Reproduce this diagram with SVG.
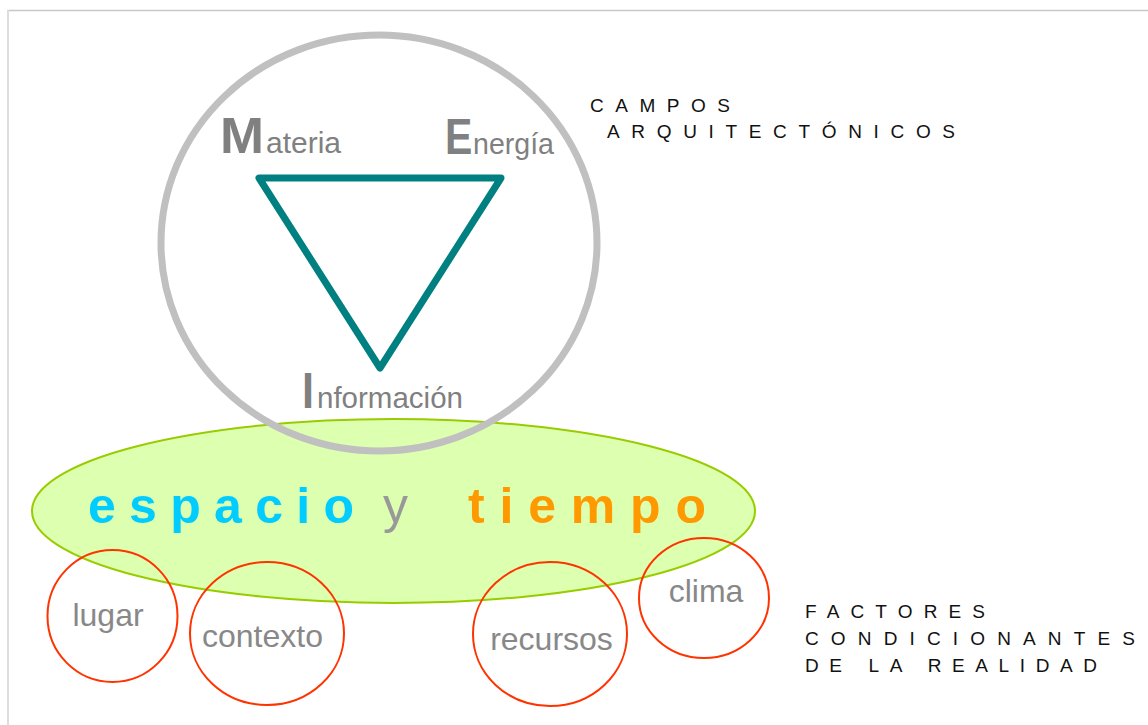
<svg xmlns="http://www.w3.org/2000/svg" width="1148" height="725" viewBox="0 0 1148 725">
<style>
.sans{font-family:"Liberation Sans",Arial,sans-serif}
.cap{font-family:"Liberation Sans",Arial,sans-serif;font-size:50px;font-weight:bold;fill:#808080}
.low{font-family:"Liberation Sans",Arial,sans-serif;font-size:30px;fill:#808080}
.fac{fill:none;stroke:#ff3300;stroke-width:2}
.lbl{font-family:"Liberation Sans",Arial,sans-serif;font-size:32px;fill:#888888}
.spaced{font-family:"Liberation Sans",Arial,sans-serif;font-size:19px;fill:#111111}
.big{font-family:"Liberation Sans",Arial,sans-serif;font-size:50px}
</style>
<rect width="1148" height="725" fill="#ffffff"/>
<g id="frame">
<line x1="7" y1="10.5" x2="1148" y2="10.5" stroke="#c8c8c8" stroke-width="1.5"/>
<line x1="8" y1="10" x2="8" y2="725" stroke="#dddddd" stroke-width="2"/>
</g>
<g id="espacio-tiempo">
<ellipse cx="393.5" cy="511" rx="361.5" ry="92" fill="#ddffb0" stroke="#99cc00" stroke-width="2"/>
<text class="big" x="88" y="523" font-weight="bold" fill="#00ccff" textLength="266" lengthAdjust="spacing">espacio</text>
<text class="big" x="383" y="523" fill="#999999">y</text>
<text class="big" x="468" y="523" font-weight="bold" fill="#ff9900" textLength="238" lengthAdjust="spacing">tiempo</text>
</g>
<g id="campos">
<ellipse cx="379" cy="243" rx="218" ry="208" fill="none" stroke="#c0c0c0" stroke-width="7"/>
</g>
<g id="triangulo">
<polygon points="259,178 501,178 380,368" fill="none" stroke="#008080" stroke-width="7" stroke-linejoin="round"/>
</g>
<g id="materia">
<text class="cap" x="220" y="153" textLength="44" lengthAdjust="spacingAndGlyphs">M</text>
<text class="low" x="266" y="153" textLength="75" lengthAdjust="spacingAndGlyphs">ateria</text>
</g>
<g id="energia">
<text class="cap" transform="translate(445,154) scale(0.82,1)">E</text>
<text class="low" x="473" y="154" textLength="81" lengthAdjust="spacingAndGlyphs">nergía</text>
</g>
<g id="informacion">
<text class="cap" x="302" y="408" textLength="12" lengthAdjust="spacingAndGlyphs">I</text>
<text class="low" x="317" y="408" textLength="146" lengthAdjust="spacingAndGlyphs">nformación</text>
</g>
<g id="campos-label">
<text class="spaced" x="590" y="112" textLength="140" lengthAdjust="spacing">CAMPOS</text>
<text class="spaced" x="607" y="138" textLength="348" lengthAdjust="spacing">ARQUITECTÓNICOS</text>
</g>
<g id="lugar">
<ellipse class="fac" cx="112.5" cy="616" rx="65" ry="66"/>
<text class="lbl" x="108" y="626" text-anchor="middle">lugar</text>
</g>
<g id="contexto">
<ellipse class="fac" cx="267" cy="633.5" rx="77" ry="71.5"/>
<text class="lbl" x="262.5" y="647" text-anchor="middle">contexto</text>
</g>
<g id="recursos">
<ellipse class="fac" cx="550" cy="634" rx="77" ry="72"/>
<text class="lbl" x="551.5" y="650" text-anchor="middle">recursos</text>
</g>
<g id="clima">
<ellipse class="fac" cx="704" cy="598" rx="65" ry="60"/>
<text class="lbl" x="706" y="602" text-anchor="middle">clima</text>
</g>
<g id="factores-label">
<text class="spaced" x="805" y="618" textLength="180" lengthAdjust="spacing">FACTORES</text>
<text class="spaced" x="805" y="645" textLength="330" lengthAdjust="spacing">CONDICIONANTES</text>
<text class="spaced" x="805" y="672" textLength="292" lengthAdjust="spacing">DE LA REALIDAD</text>
</g>
</svg>
